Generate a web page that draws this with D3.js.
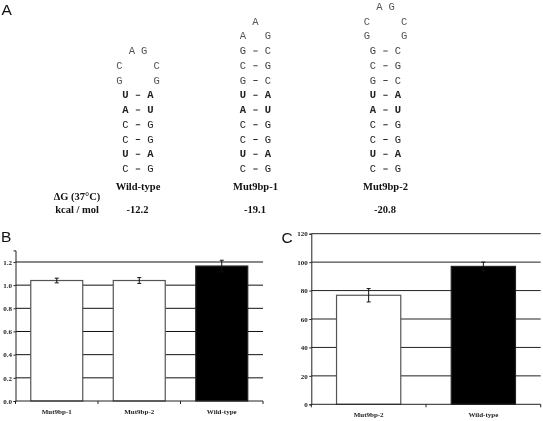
<!DOCTYPE html>
<html><head><meta charset="utf-8">
<script src="https://cdn.jsdelivr.net/npm/d3@7"></script>
<style>html,body{margin:0;padding:0;background:#fff}svg{display:block;filter:blur(0.3px)}</style></head>
<body><svg id="c" width="543" height="421"></svg>
<script>
// Hairpin stems, listed from the base upward
const wildTypeStem = ["C-G","U-A","C-G","C-G","A-U","U-A"];
const mut1Stem = ["C-G","U-A","C-G","C-G","A-U","U-A","G-C","C-G","G-C"];
const mut2Stem = ["C-G","U-A","C-G","C-G","A-U","U-A","G-C","C-G","G-C"];
const wildTypeLoop = ["G G","C C","A G"];
const mut1Loop = ["A G","A"];
const mut2Loop = ["G G","C C","A G"];
const hairpinNames = ["Wild-type","Mut9bp-1","Mut9bp-2"];
const energies = ["-12.2","-19.1","-20.8"];
const energyLabels = ["ΔG (37°C)","kcal / mol"];
// Panel B
const catsB = ["Mut9bp-1","Mut9bp-2","Wild-type"];
const valsB = [1.04,1.04,1.165];
const errsB = [0.02,0.025,0.05];
const ticksB = [0,0.2,0.4,0.6,0.8,1.0,1.2];
// Panel C
const catsC = ["Mut9bp-2","Wild-type"];
const valsC = [76.7,97];
const errsC = [4.7,3];
const ticksC = [0,20,40,60,80,100,120];

const svg = d3.select("#c");
const serif = "'Liberation Serif', serif", sans = "'Liberation Sans', sans-serif", mono = "'Liberation Mono', monospace";

// ---- panel letters
[["A",1.5,14.5],["B",1,242],["C",281.5,243]].forEach(([t,x,y]) =>
  svg.append("text").attr("x",x).attr("y",y).attr("font-family",sans).attr("font-size",15.5).attr("fill","#111").text(t));

// ---- hairpins
const rowY = d3.scaleLinear().domain([0,11]).range([169,6.75]);
function letter(g,x,y,t,bold,col){
  g.append("text").attr("x",x).attr("y",y+3.2).attr("text-anchor","middle")
   .attr("font-family",mono).attr("font-size",10.5).attr("font-weight",bold?"bold":"normal")
   .attr("fill",col).text(t);
}
function hairpin(cx,stem,loop,name,energy){
  const g = svg.append("g");
  stem.forEach((p,i)=>{
    const [a,b] = p.split("-");
    const strong = i===1||i===4||i===5;
    const col = i>=6 ? "#444" : "#222";
    letter(g,cx-12.5,rowY(i),a,strong,col);
    letter(g,cx+12.5,rowY(i),b,strong,col);
    g.append("line").attr("x1",cx-2.2).attr("x2",cx+2.2).attr("y1",rowY(i)).attr("y2",rowY(i))
      .attr("stroke",col).attr("stroke-width",1);
  });
  loop.forEach((p,j)=>{
    const i = stem.length+j, parts = p.split(" ");
    const isCap = j===loop.length-1;
    if(parts.length===1){ letter(g,cx,rowY(i),parts[0],false,"#555"); return; }
    const off = loop.length===2 ? 12.5 : (isCap ? 6.2 : 18.7);
    letter(g,cx-off,rowY(i),parts[0],false,"#555");
    letter(g,cx+off,rowY(i),parts[1],false,"#555");
  });
  g.append("text").attr("x",cx).attr("y",189.5).attr("text-anchor","middle")
    .attr("font-family",serif).attr("font-weight","bold").attr("font-size",10.5).attr("fill","#111").text(name);
  g.append("text").attr("x",cx-0.5).attr("y",213).attr("text-anchor","middle")
    .attr("font-family",serif).attr("font-weight","bold").attr("font-size",10.5).attr("fill","#111").text(energy);
}
hairpin(138,wildTypeStem,wildTypeLoop,hairpinNames[0],energies[0]);
hairpin(255.5,mut1Stem,mut1Loop,hairpinNames[1],energies[1]);
hairpin(385.5,mut2Stem,mut2Loop,hairpinNames[2],energies[2]);
energyLabels.forEach((t,i)=>svg.append("text").attr("x",77).attr("y",[200,213][i]).attr("text-anchor","middle")
  .attr("font-family",serif).attr("font-weight","bold").attr("font-size",10.5).attr("fill","#111").text(t));

// ---- bar panels
function bars(o){
  const x = d3.scaleBand().domain(o.cats).range([o.x0,o.x1]).paddingInner(o.pad).paddingOuter(o.pad/2);
  const y = d3.scaleLinear().domain([0,o.max]).range([o.y0,o.yTop]);
  const g = svg.append("g");
  g.selectAll("line.grid").data(o.ticks.filter(d=>d>0)).join("line")
    .attr("x1",o.x0).attr("x2",o.x1).attr("y1",d=>y(d)).attr("y2",d=>y(d))
    .attr("stroke",o.grid).attr("stroke-width",1);
  g.selectAll("rect").data(o.cats).join("rect")
    .attr("x",d=>x(d)).attr("width",x.bandwidth())
    .attr("y",(d,i)=>y(o.vals[i])).attr("height",(d,i)=>y(0)-y(o.vals[i]))
    .attr("fill",d=>d==="Wild-type"?"#000":"#fff")
    .attr("stroke",d=>d==="Wild-type"?"#222":"#555").attr("stroke-width",1.2);
  o.cats.forEach((c,i)=>{
    const cx = x(c)+x.bandwidth()/2, hi = y(o.vals[i]+o.errs[i]), lo = y(o.vals[i]-o.errs[i]);
    g.append("line").attr("x1",cx).attr("x2",cx).attr("y1",hi).attr("y2",lo).attr("stroke","#111").attr("stroke-width",1);
    [hi,lo].forEach(v=>g.append("line").attr("x1",cx-2).attr("x2",cx+2).attr("y1",v).attr("y2",v).attr("stroke","#111").attr("stroke-width",1));
  });
  const ya = d3.axisLeft(y).tickValues(o.ticks).tickFormat(o.fmt).tickSize(2).tickPadding(1.5);
  const yg = g.append("g").attr("transform",`translate(${o.x0},0)`).call(ya);
  const xg = g.append("g").attr("transform",`translate(0,${o.y0})`);
  xg.append("line").attr("x1",o.x0).attr("x2",o.x1).attr("stroke","#222");
  const edges = d3.range(o.cats.length+1).map(i=>o.x0+i*x.step());
  xg.selectAll("line.t").data(edges).join("line").attr("class","t").attr("x1",d=>d).attr("x2",d=>d).attr("y1",0).attr("y2",3).attr("stroke","#222");
  xg.selectAll("text").data(o.cats).join("text").attr("x",d=>x(d)+x.bandwidth()/2).attr("y",o.labY)
    .attr("text-anchor","middle").attr("font-family",serif).attr("font-weight","bold").attr("font-size",7).attr("fill","#222").text(d=>d);
  yg.selectAll("text").attr("font-family",serif).attr("font-weight","bold").attr("font-size",7).attr("fill","#222");
  yg.selectAll("path,line").attr("stroke","#222");
}
bars({cats:catsB,vals:valsB,errs:errsB,ticks:ticksB,max:1.3,x0:15.5,x1:263,y0:401,yTop:250.4,pad:0.37,grid:"#111",labY:13,fmt:d3.format(".1f")});
bars({cats:catsC,vals:valsC,errs:errsC,ticks:ticksC,max:120,x0:311.3,x1:540.7,y0:404.3,yTop:233.7,pad:0.44,grid:"#222",labY:13,fmt:d3.format("d")});
</script></body></html>
